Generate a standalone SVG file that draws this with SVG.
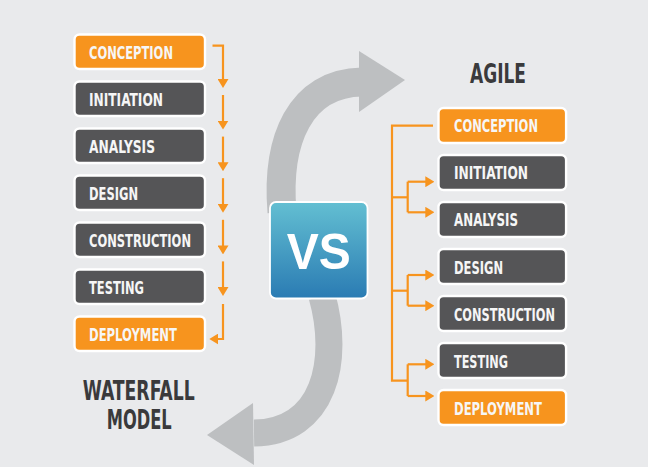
<svg xmlns="http://www.w3.org/2000/svg" width="648" height="467" viewBox="0 0 648 467">
  <style>
    .bg { fill: #E9EAEC; }
    .box { stroke: #FFFFFF; stroke-width: 2.4; }
    .org { fill: #F7941E; }
    .gry { fill: #555557; }
    .lbl { font-family: "DejaVu Sans Condensed", "DejaVu Sans", sans-serif; font-stretch: condensed; font-weight: bold; font-size: 18px; fill: #F6F6F6; }
    .title { font-family: "DejaVu Sans Condensed", "DejaVu Sans", sans-serif; font-stretch: condensed; font-weight: bold; font-size: 26px; fill: #3A3A3C; }
    .conn { fill: none; stroke: #F7941E; stroke-width: 2.2; stroke-linejoin: miter; }
    .band { fill: none; stroke: #BDBFC1; }
    .head { fill: #BDBFC1; }
    .vs { font-family: "Liberation Sans", Arial, sans-serif; font-weight: bold; font-size: 50px; fill: #FFFFFF; }
  </style>
  <defs>
    <marker id="ah" viewBox="0 0 9 11" refX="5" refY="5.5" markerWidth="9" markerHeight="11" markerUnits="userSpaceOnUse" orient="auto">
      <path d="M0,0 L9,5.5 L0,11 z" fill="#F7941E"/>
    </marker>
    <linearGradient id="vsg" x1="0" y1="0" x2="0" y2="1">
      <stop offset="0" stop-color="#63BFD2"/>
      <stop offset="1" stop-color="#2A7BB3"/>
    </linearGradient>
  </defs>

  <rect class="bg" x="0" y="0" width="648" height="467"/>

  <!-- curved gray arrows -->
  <g id="swap-arrows">
    <path class="band" stroke-width="29" d="M 282 212 C 276 140, 300 83, 362 82"/>
    <polygon class="head" points="359,51 405,80 359,112"/>
    <path class="band" stroke-width="27" d="M 322 296 C 340 360, 325 432, 254 433"/>
    <polygon class="head" points="207,435 253,403 254,465"/>
  </g>

  <!-- VS badge -->
  <g id="vs">
    <rect x="270" y="202" width="97.5" height="96.5" rx="6" fill="url(#vsg)" stroke="#FFFFFF" stroke-width="1.8"/>
    <text class="vs" x="318.7" y="269" text-anchor="middle" textLength="64" lengthAdjust="spacingAndGlyphs">VS</text>
  </g>

  <!-- titles -->
  <g id="title-agile">
    <text class="title" x="470" y="83.3" textLength="56" lengthAdjust="spacingAndGlyphs">AGILE</text>
  </g>
  <g id="title-waterfall">
    <text class="title" x="82.7" y="399.5" textLength="112" lengthAdjust="spacingAndGlyphs">WATERFALL</text>
    <text class="title" x="106.7" y="429.3" textLength="65" lengthAdjust="spacingAndGlyphs">MODEL</text>
  </g>

  <!-- connectors -->
  <g id="connectors">
    <path class="conn" d="M 212.5 45.7 H 223 V 84" marker-end="url(#ah)"/>
    <path class="conn" d="M 223 95 V 125.6" marker-end="url(#ah)"/>
    <path class="conn" d="M 223 136.6 V 167.2" marker-end="url(#ah)"/>
    <path class="conn" d="M 223 178.2 V 208.8" marker-end="url(#ah)"/>
    <path class="conn" d="M 223 219.8 V 250.4" marker-end="url(#ah)"/>
    <path class="conn" d="M 223 261.4 V 292" marker-end="url(#ah)"/>
    <path class="conn" d="M 223 304 V 339 H 213.3" marker-end="url(#ah)"/>

    <path class="conn" d="M 433 125.7 H 392 V 380.7 H 407.7"/>
    <path class="conn" d="M 392 197.3 H 407.7"/>
    <path class="conn" d="M 407.7 181.7 V 212.3"/>
    <path class="conn" d="M 407.7 181.7 H 430.3" marker-end="url(#ah)"/>
    <path class="conn" d="M 407.7 212.3 H 430.3" marker-end="url(#ah)"/>
    <path class="conn" d="M 392 290.7 H 407.7"/>
    <path class="conn" d="M 407.7 275 V 305.7"/>
    <path class="conn" d="M 407.7 275 H 430.3" marker-end="url(#ah)"/>
    <path class="conn" d="M 407.7 305.7 H 430.3" marker-end="url(#ah)"/>
    <path class="conn" d="M 407.7 364.3 V 396"/>
    <path class="conn" d="M 407.7 364.3 H 430.3" marker-end="url(#ah)"/>
    <path class="conn" d="M 407.7 396 H 430.3" marker-end="url(#ah)"/>
  </g>

  <!-- waterfall nodes -->
  <g id="w-conception"><rect class="box org" x="74.5" y="34.5" width="130.5" height="34.5" rx="5"/><text class="lbl" x="89" y="59" textLength="84" lengthAdjust="spacingAndGlyphs">CONCEPTION</text></g>
  <g id="w-initiation"><rect class="box gry" x="74.5" y="81.5" width="130.5" height="34.5" rx="5"/><text class="lbl" x="89" y="106" textLength="74" lengthAdjust="spacingAndGlyphs">INITIATION</text></g>
  <g id="w-analysis"><rect class="box gry" x="74.5" y="128.5" width="130.5" height="34.5" rx="5"/><text class="lbl" x="89" y="153" textLength="66" lengthAdjust="spacingAndGlyphs">ANALYSIS</text></g>
  <g id="w-design"><rect class="box gry" x="74.5" y="175.5" width="130.5" height="34.5" rx="5"/><text class="lbl" x="89" y="200" textLength="49" lengthAdjust="spacingAndGlyphs">DESIGN</text></g>
  <g id="w-construction"><rect class="box gry" x="74.5" y="222.5" width="130.5" height="34.5" rx="5"/><text class="lbl" x="89" y="247" textLength="102" lengthAdjust="spacingAndGlyphs">CONSTRUCTION</text></g>
  <g id="w-testing"><rect class="box gry" x="74.5" y="269.5" width="130.5" height="34.5" rx="5"/><text class="lbl" x="89" y="294" textLength="55" lengthAdjust="spacingAndGlyphs">TESTING</text></g>
  <g id="w-deployment"><rect class="box org" x="74.5" y="316.5" width="130.5" height="34.5" rx="5"/><text class="lbl" x="89" y="341" textLength="88" lengthAdjust="spacingAndGlyphs">DEPLOYMENT</text></g>

  <!-- agile nodes -->
  <g id="a-conception"><rect class="box org" x="438.5" y="108" width="127.6" height="35" rx="5"/><text class="lbl" x="454" y="132" textLength="84" lengthAdjust="spacingAndGlyphs">CONCEPTION</text></g>
  <g id="a-initiation"><rect class="box gry" x="438.5" y="155" width="127.6" height="35" rx="5"/><text class="lbl" x="454" y="179.2" textLength="74" lengthAdjust="spacingAndGlyphs">INITIATION</text></g>
  <g id="a-analysis"><rect class="box gry" x="438.5" y="202" width="127.6" height="35" rx="5"/><text class="lbl" x="454" y="226.4" textLength="64" lengthAdjust="spacingAndGlyphs">ANALYSIS</text></g>
  <g id="a-design"><rect class="box gry" x="438.5" y="249" width="127.6" height="35" rx="5"/><text class="lbl" x="454" y="273.6" textLength="49" lengthAdjust="spacingAndGlyphs">DESIGN</text></g>
  <g id="a-construction"><rect class="box gry" x="438.5" y="296" width="127.6" height="35" rx="5"/><text class="lbl" x="454" y="320.8" textLength="101" lengthAdjust="spacingAndGlyphs">CONSTRUCTION</text></g>
  <g id="a-testing"><rect class="box gry" x="438.5" y="343" width="127.6" height="35" rx="5"/><text class="lbl" x="454" y="368" textLength="54" lengthAdjust="spacingAndGlyphs">TESTING</text></g>
  <g id="a-deployment"><rect class="box org" x="438.5" y="390" width="127.6" height="35" rx="5"/><text class="lbl" x="454" y="415.2" textLength="88" lengthAdjust="spacingAndGlyphs">DEPLOYMENT</text></g>
</svg>
